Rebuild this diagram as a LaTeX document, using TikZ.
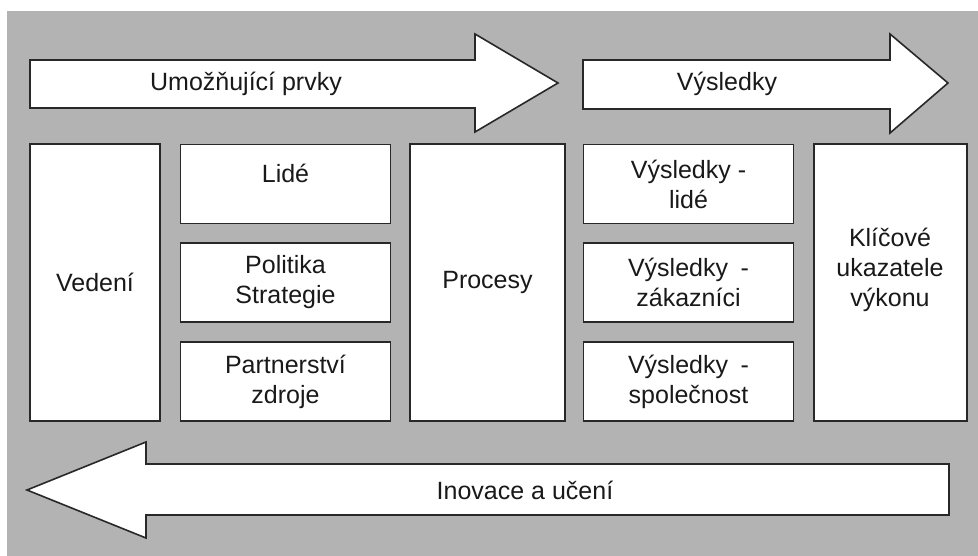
\documentclass[tikz,border=0pt]{standalone}
\usepackage{fontspec}
\setmainfont{Liberation Sans}
\usepackage{tikz}
\usetikzlibrary{positioning}
\usepackage{xcolor}
\definecolor{pozadi}{RGB}{179,179,179}
\definecolor{okraj}{RGB}{40,40,40}
\tikzset{
popis/.style = {align=center, inner sep=0pt, text=black!90,
font=\fontsize{25}{30}\selectfont},% text v bloku
blok/.style = {popis, rectangle, draw=okraj, fill=white, line width=1.6pt},% bily blok
blok_v/.style = {blok, minimum width=130pt, minimum height=277pt},% vysoky blok
blok_m/.style = {blok, minimum width=210pt, minimum height=79pt},% maly blok
sipka/.style = {draw=okraj, fill=white, line width=1.6pt, line join=miter}% sipka
}
\begin{document}
\begin{tikzpicture}[x=1pt,y=-1pt]
	\useasboundingbox (0,0) rectangle (978,556);
	\fill[white] (0,0) rectangle (978,556);
	\fill[pozadi] (7,11) rectangle (978,556);
	% sipky
	\draw[sipka] (30,60) -- (475,60) -- (475,34) -- (558,83) -- (475,132) -- (475,108) -- (30,108) -- cycle;
	\draw[sipka] (583,60) -- (890,60) -- (890,34) -- (948,83) -- (890,133) -- (890,109) -- (583,109) -- cycle;
	\draw[sipka] (949,464) -- (146,464) -- (146,442) -- (27,490) -- (146,538) -- (146,515) -- (949,515) -- cycle;
	\node [popis] (umoz) at (246,84) {Umožňující prvky};
	\node [popis] (vysl) at (727,84) {Výsledky};
	\node [popis] (inov) at (525,490) {Inovace a učení};
	% bloky
	\node [blok_v] (vedeni) at (95,282.5) {Vedení};
	\node [blok_m] (lide) at (285.5,184) {};
	\node [popis, below=20pt of lide.north] (lide_t) {Lidé};
	\node [blok_m] (politika) at (285.5,282.5) {Politika\\Strategie};
	\node [blok_m] (partner) at (285.5,381.5) {Partnerství\\zdroje};
	\node [blok_v, minimum width=155pt] (procesy) at (487.5,282.5) {Procesy};
	\node [blok_m] (v_lide) at (688.5,184) {Výsledky -\\lidé};
	\node [blok_m] (v_zak) at (688.5,282.5) {Výsledky\enspace-\\zákazníci};
	\node [blok_m] (v_spol) at (688.5,381.5) {Výsledky\enspace-\\společnost};
	\node [blok_v, minimum width=153pt] (klic) at (890.5,282.5) {};
	\node [popis] (klic_t) at (890,270) {Klíčové\\ukazatele\\výkonu};
\end{tikzpicture}
\end{document}
